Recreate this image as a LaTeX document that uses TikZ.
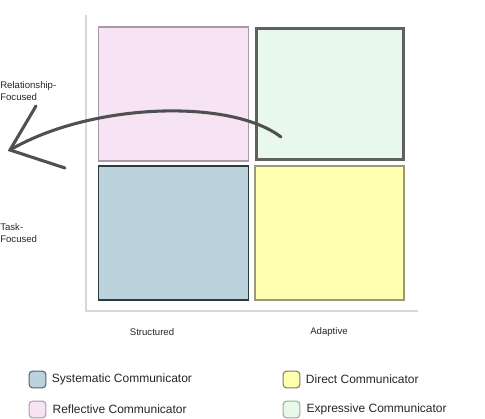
\documentclass[tikz,border=0pt]{standalone}
\usepackage{fontspec}
\setmainfont{Liberation Sans}
\usetikzlibrary{positioning}

\definecolor{pinkfill}{HTML}{F6E4F5}
\definecolor{pinkline}{HTML}{A898A8}
\definecolor{greenfill}{HTML}{E8F8EA}
\definecolor{greenline}{HTML}{9AAA9C}
\definecolor{bluefill}{HTML}{BCD3DD}
\definecolor{blueline}{HTML}{2F3A3F}
\definecolor{yellowfill}{HTML}{FFFFAF}
\definecolor{yellowline}{HTML}{9A9A78}
\definecolor{axisgray}{HTML}{D8D8D8}
\definecolor{arrowgray}{HTML}{505050}
\definecolor{boxgray}{HTML}{606060}

\begin{document}
\begin{tikzpicture}[
    x=0.75pt, y=-0.75pt,
    quad/.style={rectangle, draw, line width=1.1pt, minimum width=112.5pt, minimum height=100.5pt, inner sep=0pt, outer sep=0pt},
    swatch/.style={rectangle, draw, rounded corners=2.5pt, line width=0.8pt, minimum width=12.5pt, minimum height=12.5pt, inner sep=0pt},
    legtext/.style={anchor=west, font=\fontsize{9}{10}\selectfont, text=black!85, inner sep=0pt},
    axislabel/.style={font=\fontsize{7.2}{9.5}\selectfont, text=black!85, align=left, inner sep=0pt},
    sweep/.style={line width=2.3pt, draw=arrowgray, line cap=round}
]
    \useasboundingbox (0,0) rectangle (485,418);

    % axes
    \coordinate (axtop) at (86,15);
    \coordinate (origin) at (86,311);
    \coordinate (axright) at (418,311);
    \draw[axisgray, line width=1.2pt] (axtop) -- (origin) -- (axright);

    % quadrants
    \node[quad, fill=pinkfill, draw=pinkline] (reflective) at (173.5,94) {};
    \node[quad, fill=greenfill, draw=boxgray, line width=2.4pt, minimum width=110pt, minimum height=98.5pt, right=6pt of reflective] (expressive) {};
    \node[quad, fill=bluefill, draw=blueline, below=3.8pt of reflective] (systematic) {};
    \node[quad, fill=yellowfill, draw=yellowline, minimum width=111.5pt, right=5pt of systematic] (direct) {};

    % axis labels
    \node[axislabel, anchor=north west] (relation) at (0,81) {Relationship-\\Focused};
    \node[axislabel, anchor=north west] (task) at (0,223) {Task-\\Focused};
    \node[axislabel] (structured) at (152,332) {Structured};
    \node[axislabel] (adaptive) at (329,332) {Adaptive};

    % sweeping arrow
    \coordinate (from) at (281,137);
    \coordinate (tip) at (10,150);
    \coordinate (barbup) at (36,106);
    \coordinate (barbdown) at (65,168);
    \draw[sweep] (from) .. controls (230,98) and (90,103) .. (tip);
    \draw[sweep] (barbup) -- (tip) -- (barbdown);

    % legend
    \node[swatch, fill=bluefill, draw=blueline!80] (sysbox) at (37.5,379.5) {};
    \node[legtext, right=4pt of sysbox] {Systematic Communicator};
    \node[swatch, fill=pinkfill, draw=pinkline] (refbox) at (37.5,409.5) {};
    \node[legtext, right=4.5pt of refbox] {Reflective Communicator};
    \node[swatch, fill=yellowfill, draw=yellowline!80!black] (dirbox) at (291.5,379.5) {};
    \node[legtext, right=4pt of dirbox] {Direct Communicator};
    \node[swatch, fill=greenfill, draw=greenline] (expbox) at (291.5,409.5) {};
    \node[legtext, right=4.5pt of expbox] {Expressive Communicator};
\end{tikzpicture}
\end{document}
